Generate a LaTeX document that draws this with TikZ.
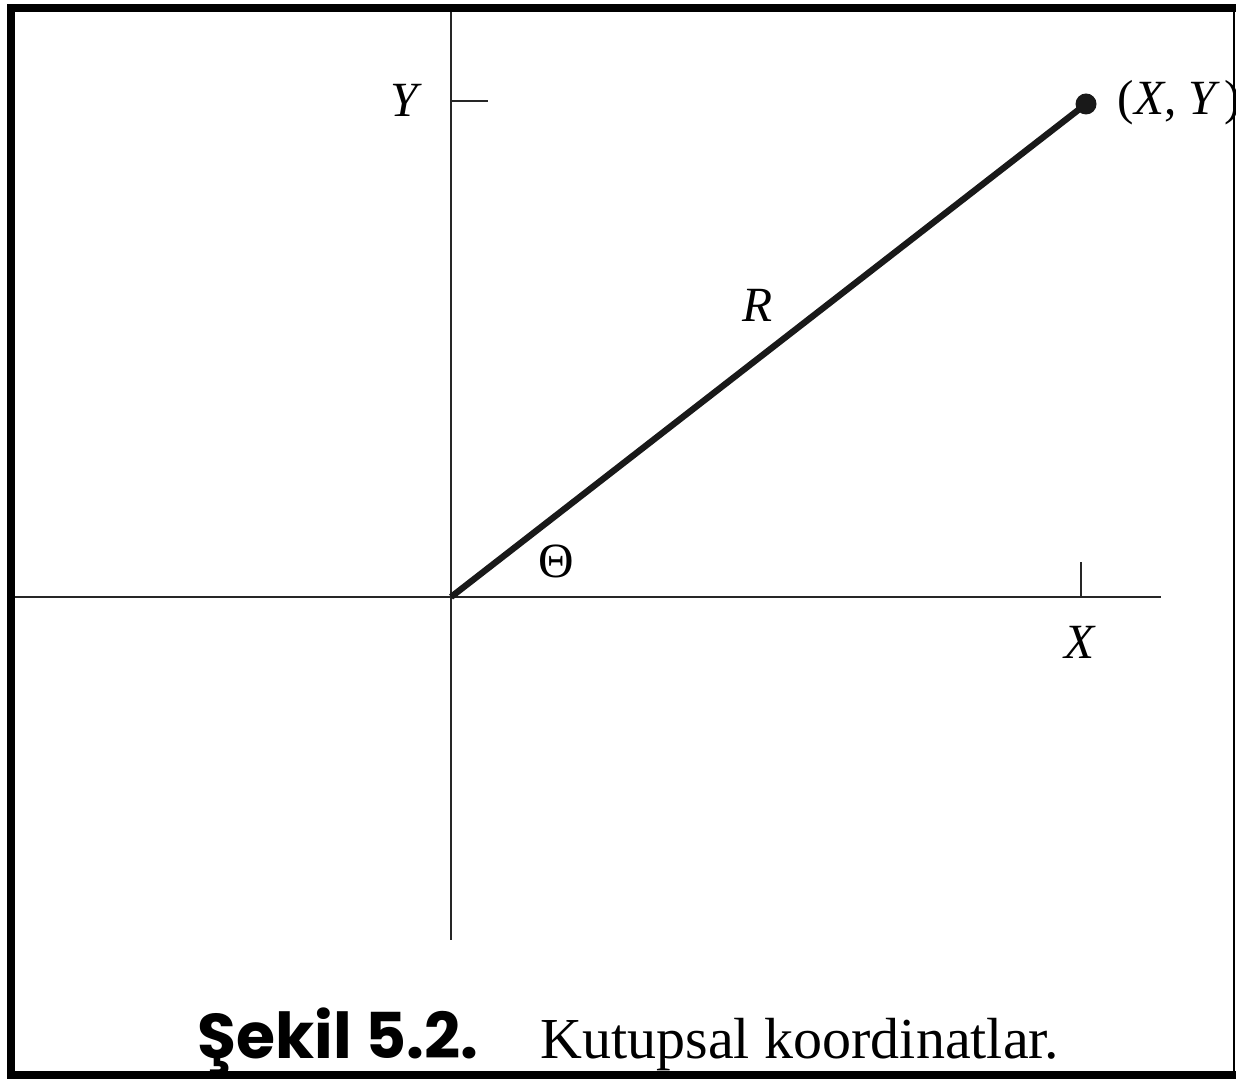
\documentclass[tikz,border=0pt]{standalone}
\usepackage{fontspec}
\setmainfont{Liberation Serif}
\newfontfamily\capfont{Poppins}
\tikzset{
	axis/.style = {line width = 0.8pt, black!85},
	ray/.style = {line width = 1.8pt, black!90},
	lab/.style = {font = \fontsize{14}{16}\selectfont, inner sep = 0pt}
}
\begin{document}
\begin{tikzpicture}
	\useasboundingbox (0,0) rectangle (12.36,-10.81);
	% frame
	\draw [line width = 2.3pt] (0.11,-10.75) -- (0.11,-0.08) -- (12.36,-0.08);
	\draw [line width = 2.3pt] (0.07,-10.75) -- (12.36,-10.75);
	\draw [line width = 0.6pt] (12.34,-0.08) -- (12.34,-10.75);
	% points
	\coordinate (O) at (4.51,-5.97);
	\coordinate (ytop) at (4.51,-0.12);
	\coordinate (ybot) at (4.51,-9.40);
	\coordinate (xleft) at (0.15,-5.97);
	\coordinate (xright) at (11.61,-5.97);
	\coordinate (yt0) at (4.51,-1.01);
	\coordinate (yt1) at (4.88,-1.01);
	\coordinate (xt0) at (10.81,-5.97);
	\coordinate (xt1) at (10.81,-5.62);
	\coordinate (P) at (10.86,-1.04);
	% axes and ticks
	\draw [axis] (ybot) -- (ytop);
	\draw [axis] (xleft) -- (xright);
	\draw [axis] (yt0) -- (yt1);
	\draw [axis] (xt0) -- (xt1);
	% radius
	\draw [ray] (O) -- (P);
	\fill [black!90] (P) circle (0.105cm);
	% labels
	\node [lab] (ylab) at (4.06,-1.00) {\textit{Y}};
	\node [lab, anchor = west] (plab) at (11.17,-1.03) {(\textit{X}, \textit{Y}\kern1pt)};
	\node [lab] (rlab) at (7.58,-3.05) {\textit{R}};
	\node [lab] (tlab) at (5.56,-5.61) {Θ};
	\node [lab] (xlab) at (10.80,-6.42) {\textit{X}};
	% caption
	\node [anchor = base west, inner sep = 0pt, font = \capfont\bfseries\fontsize{18}{20}\selectfont] (cap) at (1.97,-10.58) {Şekil 5.2.};
	\node [anchor = base west, inner sep = 0pt, font = \fontsize{16.5}{18}\selectfont] (capt) at (5.40,-10.58) {Kutupsal koordinatlar.};
\end{tikzpicture}
\end{document}
